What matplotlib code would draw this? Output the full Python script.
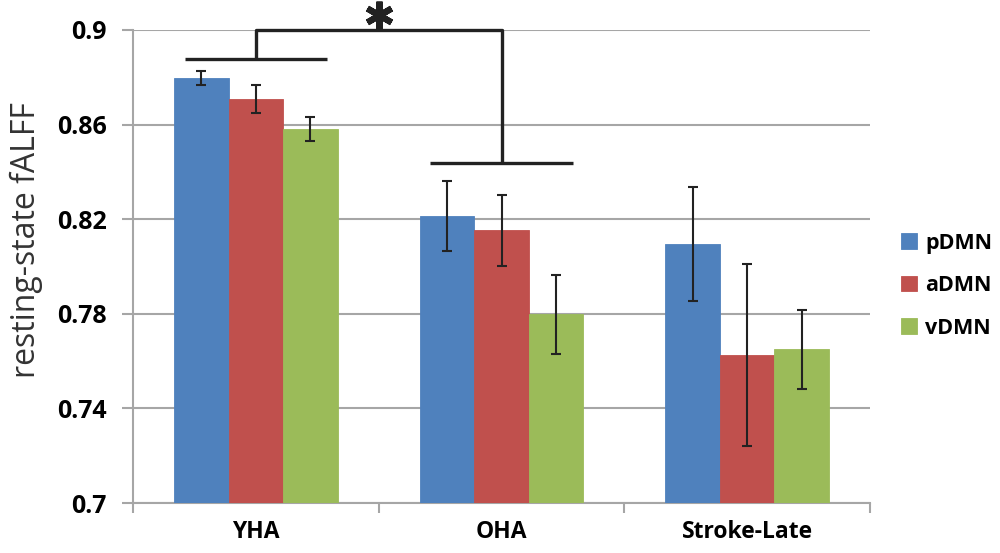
import matplotlib
matplotlib.use('Agg')
import matplotlib.pyplot as plt
import numpy as np

groups = ['YHA', 'OHA', 'Stroke-Late']
series = ['pDMN', 'aDMN', 'vDMN']
colors = ['#4F81BD', '#C0504D', '#9BBB59']

p_dmn = [0.8797, 0.8214, 0.8095]
a_dmn = [0.8707, 0.8153, 0.7626]
v_dmn = [0.8581, 0.7798, 0.7650]
p_err = [0.0030, 0.0148, 0.0242]
a_err = [0.0060, 0.0151, 0.0386]
v_err = [0.0052, 0.0167, 0.0167]

yticks = [0.7, 0.74, 0.78, 0.82, 0.86, 0.9]
ytick_labels = ['0.7', '0.74', '0.78', '0.82', '0.86', '0.9']

plt.rcParams['font.family'] = ['Open Sans', 'DejaVu Sans']

fig = plt.figure(figsize=(10, 5.53), dpi=100)
ax = fig.add_axes([0.133, 0.0904, 0.737, 0.8554])

x = np.arange(len(groups))
width = 0.222
grey = '#A6A6A6'

for i, (vals, errs, name, col) in enumerate(zip([p_dmn, a_dmn, v_dmn],
                                                 [p_err, a_err, v_err],
                                                 series, colors)):
    xs = x + (i - 1) * width
    ax.bar(xs, np.array(vals) - 0.7, width, bottom=0.7, color=col,
           label=name, zorder=3, edgecolor=col, linewidth=0.6)
    ax.errorbar(xs, vals, yerr=errs, fmt='none', ecolor='#222222',
                elinewidth=1.5, capsize=3.5, capthick=1.5, zorder=4)

ax.set_xlim(-0.5, 2.5)
ax.set_ylim(0.7, 0.9)
ax.set_yticks(yticks)
ax.set_yticklabels(ytick_labels, fontsize=18, fontweight='bold')
ax.set_xticks(x)
ax.set_xticklabels(groups, fontsize=16.5, fontweight='bold')
ax.set_xticks([-0.5, 0.5, 1.5, 2.5], minor=True)
ax.tick_params(axis='x', which='major', length=0, pad=12)
ax.tick_params(axis='x', which='minor', length=7, width=1.5, color=grey, direction='out')
ax.tick_params(axis='y', length=8, width=1.5, color=grey, direction='out', pad=11)

ax.yaxis.grid(True, color=grey, linewidth=1.5, zorder=0)
ax.set_axisbelow(True)
for side in ['top', 'right']:
    ax.spines[side].set_visible(False)
for side in ['left', 'bottom']:
    ax.spines[side].set_color(grey)
    ax.spines[side].set_linewidth(1.5)

ax.set_ylabel('resting-state fALFF', fontsize=23, color='#333333')
ax.yaxis.set_label_coords(-0.122, 0.555)

# significance bracket
bk = dict(color='#222222', lw=2.4, clip_on=False, zorder=6, solid_capstyle='butt')
ax.plot([-0.29, 0.29], [0.8876, 0.8876], **bk)
ax.plot([0.71, 1.29], [0.8436, 0.8436], **bk)
ax.plot([0, 0, 1, 1], [0.8876, 0.9, 0.9, 0.8436], **bk)
ax.plot([0.5], [0.9063], marker=(6, 2, 0), markersize=20, markeredgewidth=4.5,
        color='#222222', clip_on=False, zorder=6)

ax.legend(loc='upper left', bbox_to_anchor=(1.03, 0.59), frameon=False,
          prop={'size': 15.5, 'weight': 'bold'}, handlelength=0.75,
          handleheight=0.75, handletextpad=0.4, labelspacing=1.0,
          borderaxespad=0)

fig.savefig('out.png', dpi=100)
